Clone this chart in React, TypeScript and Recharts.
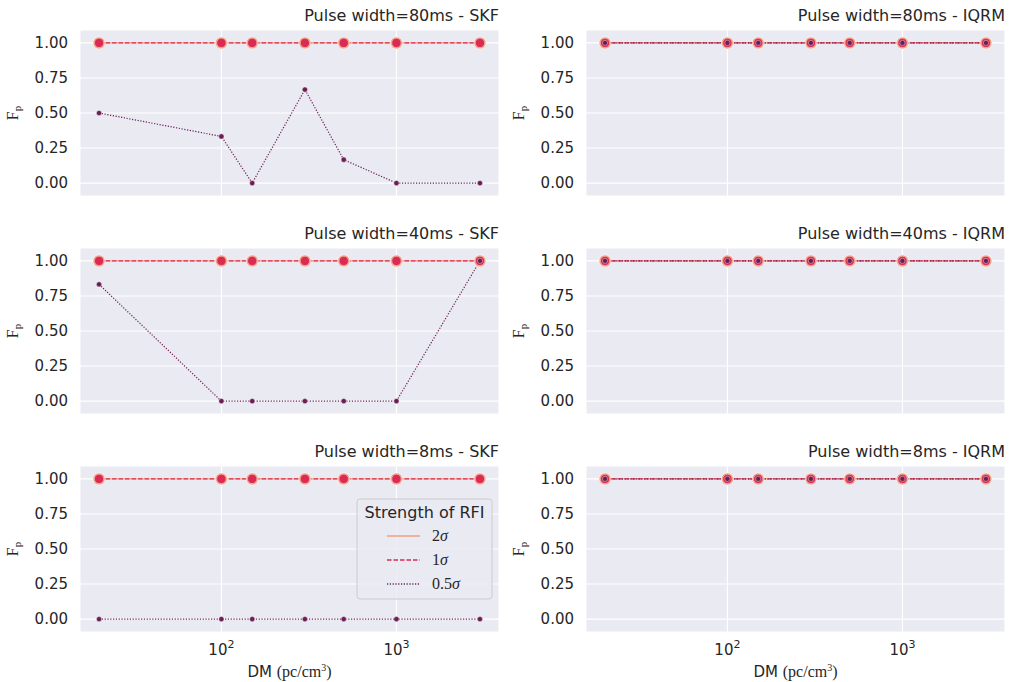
import React from 'react';
import { LineChart, Line, XAxis, YAxis, CartesianGrid } from 'recharts';

// ---------- data ----------
const DM = [20, 100, 150, 300, 500, 1000, 3000];
const X_TICKS = [100, 1000];
const Y_TICKS = [0, 0.25, 0.5, 0.75, 1];
const PULSE_WIDTHS = ['80ms', '40ms', '8ms'];
const METHODS = ['SKF', 'IQRM'];
const STRENGTH_NUMS = ['2', '1', '0.5'];
const LEGEND_TITLE = 'Strength of RFI';

const SKF_80_2S = [1, 1, 1, 1, 1, 1, 1];
const SKF_80_1S = [1, 1, 1, 1, 1, 1, 1];
const SKF_80_05S = [0.5, 0.333, 0, 0.667, 0.167, 0, 0];
const SKF_40_2S = [1, 1, 1, 1, 1, 1, 1];
const SKF_40_1S = [1, 1, 1, 1, 1, 1, 1];
const SKF_40_05S = [0.833, 0, 0, 0, 0, 0, 1];
const SKF_8_2S = [1, 1, 1, 1, 1, 1, 1];
const SKF_8_1S = [1, 1, 1, 1, 1, 1, 1];
const SKF_8_05S = [0, 0, 0, 0, 0, 0, 0];
const IQRM_80_2S = [1, 1, 1, 1, 1, 1, 1];
const IQRM_80_1S = [1, 1, 1, 1, 1, 1, 1];
const IQRM_80_05S = [1, 1, 1, 1, 1, 1, 1];
const IQRM_40_2S = [1, 1, 1, 1, 1, 1, 1];
const IQRM_40_1S = [1, 1, 1, 1, 1, 1, 1];
const IQRM_40_05S = [1, 1, 1, 1, 1, 1, 1];
const IQRM_8_2S = [1, 1, 1, 1, 1, 1, 1];
const IQRM_8_1S = [1, 1, 1, 1, 1, 1, 1];
const IQRM_8_05S = [1, 1, 1, 1, 1, 1, 1];

const SERIES = [
  [
    [SKF_80_2S, SKF_80_1S, SKF_80_05S],
    [IQRM_80_2S, IQRM_80_1S, IQRM_80_05S],
  ],
  [
    [SKF_40_2S, SKF_40_1S, SKF_40_05S],
    [IQRM_40_2S, IQRM_40_1S, IQRM_40_05S],
  ],
  [
    [SKF_8_2S, SKF_8_1S, SKF_8_05S],
    [IQRM_8_2S, IQRM_8_1S, IQRM_8_05S],
  ],
];

// ---------- style ----------
const C2 = '#f49f7c';
const C1 = '#da2b55';
const C05 = '#6b1e52';
const TEXT = '#262626';
const BG = '#eaeaf2';
const SANS = 'DejaVu Sans';
const SERIF = 'Liberation Serif';

const logMin = Math.log10(Math.min(...DM));
const logMax = Math.log10(Math.max(...DM));
const pad = 0.05 * (logMax - logMin);
const X_DOMAIN = [Math.pow(10, logMin - pad), Math.pow(10, logMax + pad)];
const Y_DOMAIN = [-0.092, 1.092];

const ROW_PLOT_TOP = [30, 248, 466];
const PLOT_H = 166;
const COLS = [
  { left: 0, width: 505, right: 6, plotL: 80, plotR: 499, ylabX: 17.5 },
  { left: 506, width: 503, right: 4, plotL: 586, plotR: 1005, ylabX: 524 },
];

const LogTick = (props: any) => {
  const { x, y, payload } = props;
  const exp = Math.round(Math.log10(payload.value));
  return (
    <text x={x} y={y + 23} textAnchor="middle" fill={TEXT} fontSize={15} fontFamily={SANS}>
      10<tspan dy={-7} fontSize={11}>{exp}</tspan>
    </text>
  );
};

const EmptyTick = () => <g />;

function Panel({ row, col }: { row: number; col: number }) {
  const c = COLS[col];
  const [s2, s1, s05] = SERIES[row][col];
  const showX = row === 2;
  const data = DM.map((dm, i) => ({ dm, s2: s2[i], s1: s1[i], s05: s05[i] }));
  const height = 30 + PLOT_H + (showX ? 50 : 0);
  return (
    <div style={{ position: 'absolute', left: c.left, top: ROW_PLOT_TOP[row] - 30 }}>
      <LineChart
        width={c.width}
        height={height}
        data={data}
        margin={{ top: 30, right: c.right, bottom: 0, left: 0 }}
      >
        <CartesianGrid fill={BG} stroke="#ffffff" strokeWidth={1.1} />
        <XAxis
          dataKey="dm"
          type="number"
          scale="log"
          domain={X_DOMAIN}
          allowDataOverflow
          ticks={X_TICKS}
          height={showX ? 50 : 0}
          axisLine={false}
          tickLine={false}
          tickSize={0}
          tickMargin={0}
          tick={showX ? <LogTick /> : <EmptyTick />}
          interval={0}
        />
        <YAxis
          type="number"
          domain={Y_DOMAIN}
          allowDataOverflow
          ticks={Y_TICKS}
          width={80}
          axisLine={false}
          tickLine={false}
          tickSize={0}
          tickMargin={12}
          interval={0}
          tickFormatter={(v: number) => v.toFixed(2)}
          tick={{ fill: TEXT, fontSize: 15, fontFamily: SANS }}
        />
        <Line
          dataKey="s2"
          stroke={C2}
          strokeWidth={1.3}
          dot={{ r: 6, fill: C2, stroke: '#ffffff', strokeWidth: 0.5 }}
          activeDot={false}
          isAnimationActive={false}
        />
        <Line
          dataKey="s1"
          stroke={C1}
          strokeWidth={1.3}
          strokeDasharray="4.5 2"
          dot={{ r: 4.7, fill: C1, stroke: '#f7c0a8', strokeWidth: 0.7, strokeDasharray: '' }}
          activeDot={false}
          isAnimationActive={false}
        />
        <Line
          dataKey="s05"
          stroke={C05}
          strokeWidth={1.2}
          strokeDasharray="1.2 1.6"
          dot={{ r: 2.6, fill: C05, stroke: '#ffffff', strokeWidth: 0.4, strokeDasharray: '' }}
          activeDot={false}
          isAnimationActive={false}
        />
      </LineChart>
    </div>
  );
}

function Overlay() {
  const leg = { x: 357, y: 499, w: 135, h: 100 };
  const legendRows = [
    { num: STRENGTH_NUMS[0], color: C2, dash: '' },
    { num: STRENGTH_NUMS[1], color: C1, dash: '4.5 2' },
    { num: STRENGTH_NUMS[2], color: C05, dash: '1.2 1.6' },
  ];
  return (
    <svg
      width={1009}
      height={682}
      style={{ position: 'absolute', left: 0, top: 0, pointerEvents: 'none' }}
    >
      {PULSE_WIDTHS.map((pw, r) =>
        METHODS.map((m, ci) => {
          const c = COLS[ci];
          const top = ROW_PLOT_TOP[r];
          return (
            <g key={`${r}-${ci}`}>
              <text x={c.plotR} y={top - 9} textAnchor="end" fill={TEXT} fontSize={16} fontFamily={SANS}>
                {`Pulse width=${pw} - ${m}`}
              </text>
              <text
                transform={`translate(${c.ylabX},${top + PLOT_H / 2}) rotate(-90)`}
                textAnchor="middle"
                fill={TEXT}
                fontSize={16}
                fontFamily={SERIF}
              >
                F<tspan dy={3} fontSize={11}>p</tspan>
              </text>
            </g>
          );
        })
      )}
      {COLS.map((c, ci) => (
        <text
          key={`xl-${ci}`}
          x={(c.plotL + c.plotR) / 2}
          y={677}
          textAnchor="middle"
          fill={TEXT}
          fontSize={15}
          fontFamily={SANS}
        >
          DM <tspan fontFamily={SERIF} fontSize={16}>(pc/cm</tspan>
          <tspan fontFamily={SERIF} fontSize={10} dy={-6}>3</tspan>
          <tspan fontFamily={SERIF} fontSize={16} dy={6}>)</tspan>
        </text>
      ))}
      <rect
        x={leg.x}
        y={leg.y}
        width={leg.w}
        height={leg.h}
        rx={3}
        fill={BG}
        fillOpacity={0.8}
        stroke="#cccccc"
        strokeWidth={1}
      />
      <text x={leg.x + leg.w / 2} y={518} textAnchor="middle" fill={TEXT} fontSize={16} fontFamily={SANS}>
        {LEGEND_TITLE}
      </text>
      {legendRows.map((lr, i) => {
        const y = 536 + i * 24;
        return (
          <g key={`lg-${i}`}>
            <line x1={387} x2={420} y1={y} y2={y} stroke={lr.color} strokeWidth={1.4} strokeDasharray={lr.dash} />
            <text x={432} y={y + 5} fill={TEXT} fontSize={16} fontFamily={SERIF}>
              {lr.num}
              <tspan fontStyle="italic">σ</tspan>
            </text>
          </g>
        );
      })}
    </svg>
  );
}

export default function App() {
  return (
    <div style={{ position: 'absolute', left: 0, top: 0, width: 1009, height: 682, background: '#ffffff' }}>
      {[0, 1, 2].map((r) => [0, 1].map((c) => <Panel key={`${r}-${c}`} row={r} col={c} />))}
      <Overlay />
    </div>
  );
}
